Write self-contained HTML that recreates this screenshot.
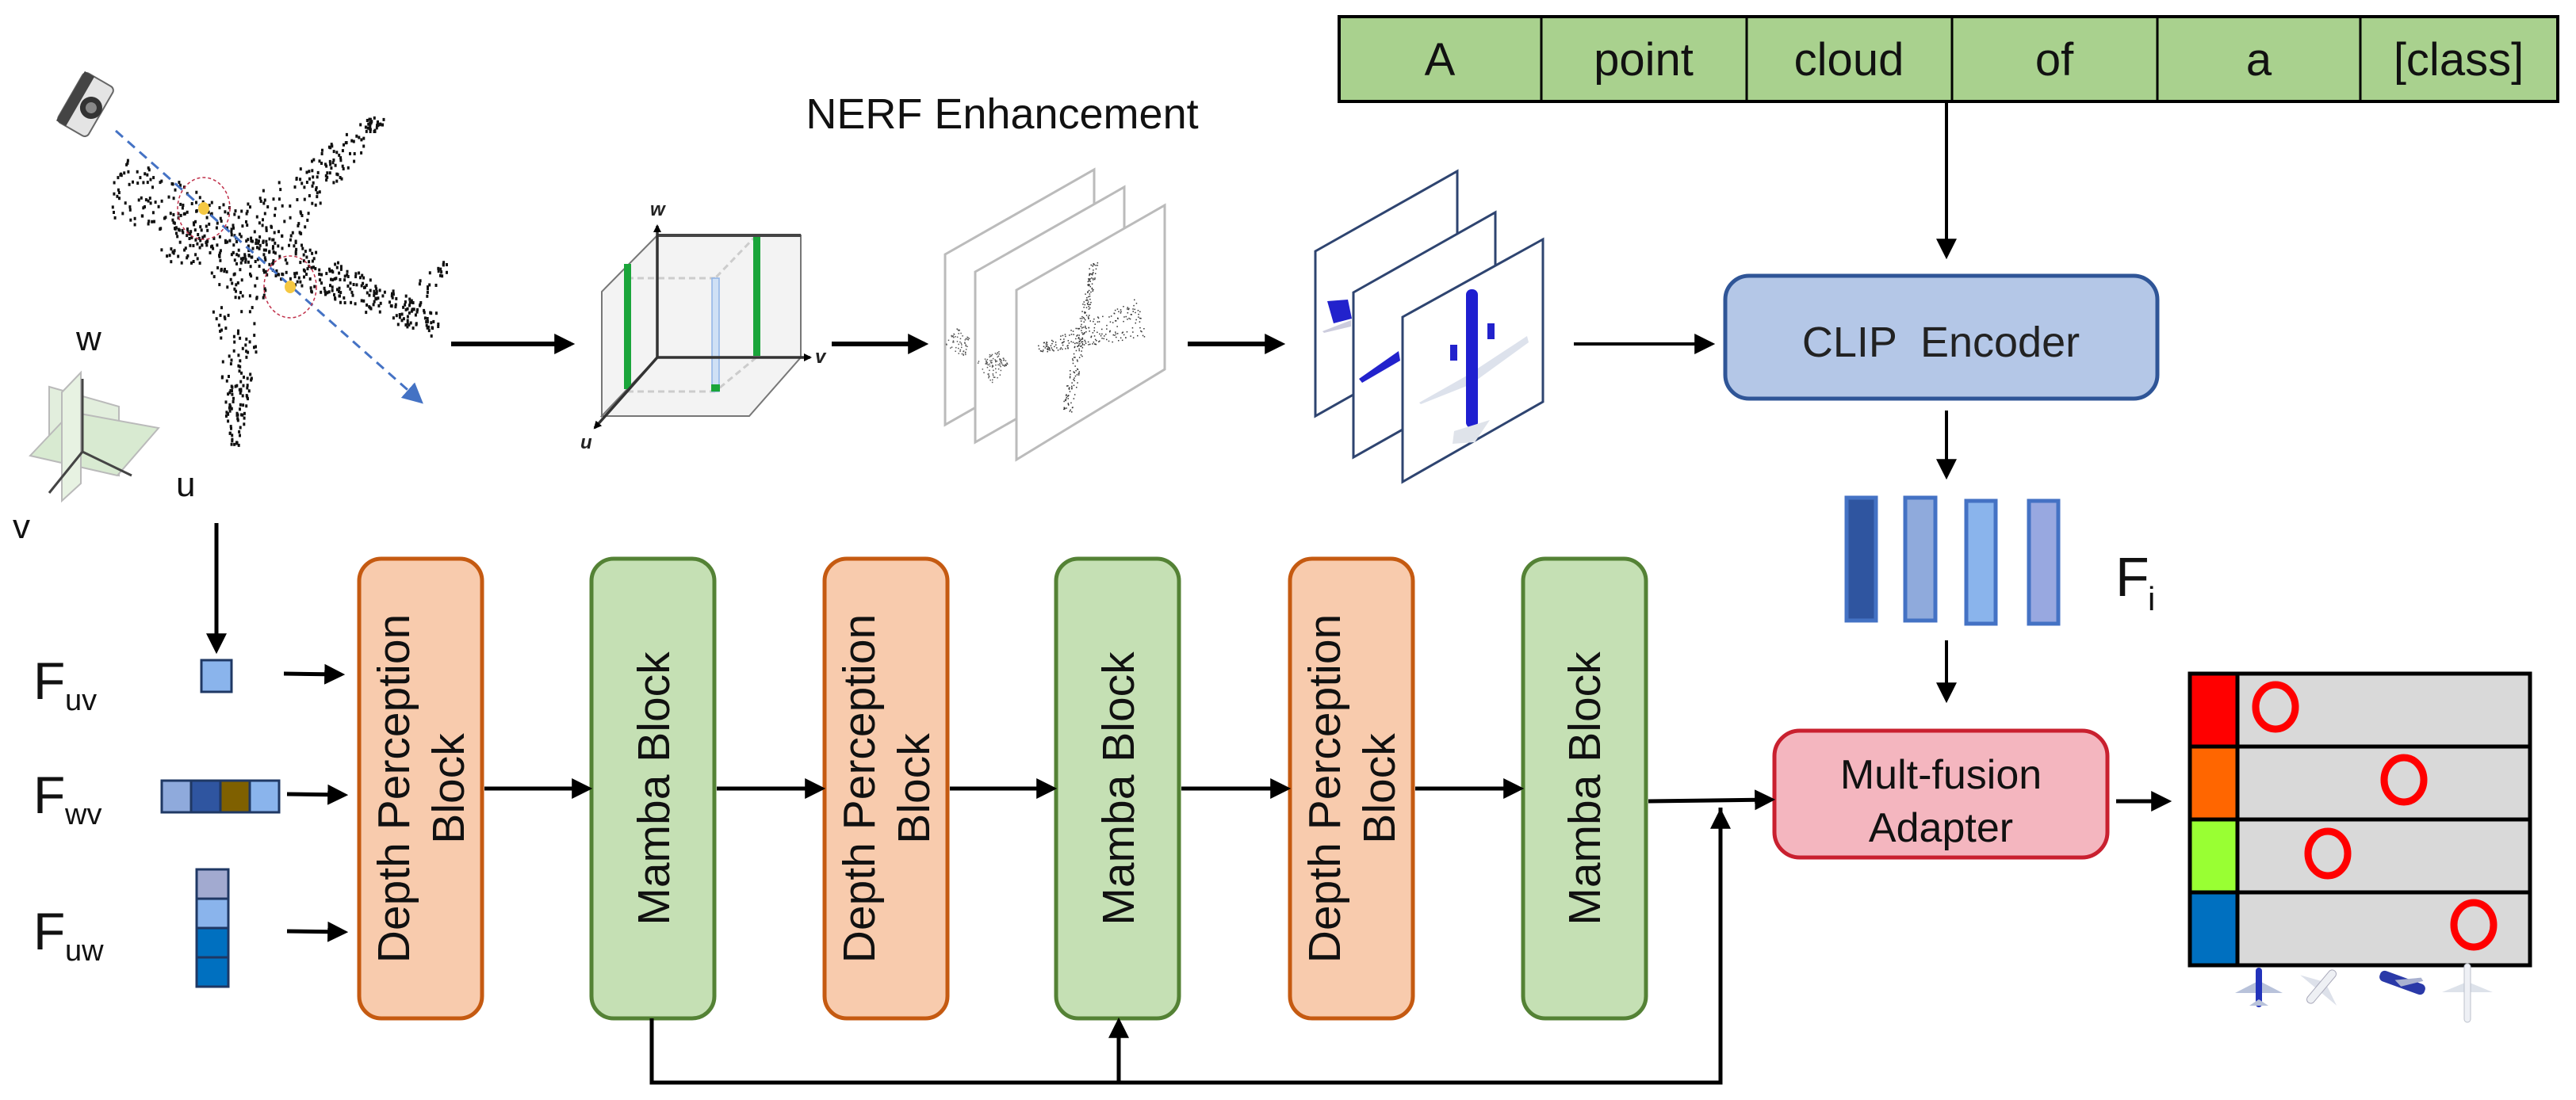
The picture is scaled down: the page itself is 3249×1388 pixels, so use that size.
<!DOCTYPE html>
<html><head><meta charset="utf-8"><style>
html,body{margin:0;padding:0;background:#fff}
svg{display:block}
text{font-family:"Liberation Sans",Arial,sans-serif}
</style></head><body>
<svg id="s" width="3249" height="1388" viewBox="0 0 3249 1388" xmlns="http://www.w3.org/2000/svg">
<defs>
<marker id="ah" markerWidth="10" markerHeight="10" refX="8" refY="5" orient="auto" markerUnits="userSpaceOnUse" viewBox="0 0 10 10"><path d="M0,0 L10,5 L0,10 z" fill="#000"/></marker>
<marker id="ab" viewBox="0 0 10 10" refX="8" refY="5" markerWidth="26" markerHeight="26" orient="auto" markerUnits="userSpaceOnUse"><path d="M0,0 L10,5 L0,10 z" fill="#000"/></marker>
<marker id="abl" viewBox="0 0 10 10" refX="8" refY="5" markerWidth="26" markerHeight="26" orient="auto" markerUnits="userSpaceOnUse"><path d="M0,0 L10,5 L0,10 z" fill="#4472c4"/></marker>
</defs>

<rect x="1689" y="21" width="1537" height="107" fill="#a9d18e" stroke="#000" stroke-width="4"/>
<g stroke="#000" stroke-width="3">
<line x1="1944" y1="21" x2="1944" y2="128"/><line x1="2203" y1="21" x2="2203" y2="128"/>
<line x1="2462" y1="21" x2="2462" y2="128"/><line x1="2721" y1="21" x2="2721" y2="128"/>
<line x1="2977" y1="21" x2="2977" y2="128"/></g>
<g font-size="58" text-anchor="middle" fill="#111">
<text x="1816" y="95">A</text><text x="2073" y="95">point</text><text x="2332" y="95">cloud</text>
<text x="2591" y="95">of</text><text x="2849" y="95">a</text><text x="3101" y="95">[class]</text></g>

<line x1="2455" y1="128" x2="2455" y2="322" stroke="#000" stroke-width="4" marker-end="url(#ab)"/>
<rect x="2176" y="348" width="545" height="155" rx="30" fill="#b4c7e7" stroke="#2f5597" stroke-width="5"/>
<text x="2448" y="450" font-size="54" text-anchor="middle" fill="#222" xml:space="preserve">CLIP  Encoder</text>
<line x1="2455" y1="518" x2="2455" y2="600" stroke="#000" stroke-width="4" marker-end="url(#ab)"/>
<g stroke="#4472c4" stroke-width="5">
<rect x="2329" y="628" width="37" height="155" fill="#2f55a0"/>
<rect x="2403" y="628" width="38" height="155" fill="#8faadc"/>
<rect x="2480" y="632" width="37" height="155" fill="#8ab4ec"/>
<rect x="2559" y="632" width="37" height="155" fill="#98a8e0"/></g>
<text x="2668" y="752" font-size="70" fill="#111">F</text><text x="2709" y="770" font-size="42" fill="#111">i</text>
<line x1="2455" y1="808" x2="2455" y2="882" stroke="#000" stroke-width="4" marker-end="url(#ab)"/>
<rect x="2238" y="922" width="420" height="160" rx="32" fill="#f4b6bf" stroke="#c9202f" stroke-width="5"/>
<text x="2448" y="995" font-size="52" text-anchor="middle" fill="#111">Mult-fusion</text>
<text x="2448" y="1062" font-size="52" text-anchor="middle" fill="#111">Adapter</text>
<line x1="2669" y1="1011" x2="2734" y2="1011" stroke="#000" stroke-width="5" marker-end="url(#ab)"/>
<rect x="2762" y="850" width="429" height="368" fill="#d9d9d9"/>
<rect x="2762" y="850" width="60" height="92" fill="#ff0000"/>
<rect x="2762" y="942" width="60" height="92" fill="#ff6600"/>
<rect x="2762" y="1034" width="60" height="92" fill="#99ff33"/>
<rect x="2762" y="1126" width="60" height="92" fill="#0070c0"/>
<g stroke="#000" stroke-width="5" fill="none">
<rect x="2762" y="850" width="429" height="368"/>
<line x1="2822" y1="850" x2="2822" y2="1218"/>
<line x1="2762" y1="942" x2="3191" y2="942"/><line x1="2762" y1="1034" x2="3191" y2="1034"/><line x1="2762" y1="1126" x2="3191" y2="1126"/></g>
<g stroke="#ff0000" stroke-width="9" fill="none">
<ellipse cx="2870" cy="892" rx="25" ry="28"/><ellipse cx="3032" cy="984" rx="25" ry="28"/>
<ellipse cx="2936" cy="1077" rx="25" ry="28"/><ellipse cx="3120" cy="1167" rx="25" ry="28"/></g>
<g>
<g transform="translate(2849,1245)"><path d="M-30,8 L30,8 L3,-6 L-3,-6z" fill="#b8c2da"/><rect x="-4" y="-24" width="8" height="50" rx="4" fill="#2233bb"/><path d="M-12,24 L12,24 L0,16z" fill="#b8c2da"/></g>
<g transform="translate(2928,1245) rotate(40)"><path d="M-30,6 L30,6 L3,-6 L-3,-6z" fill="#dde1ea"/><rect x="-5" y="-26" width="10" height="52" rx="5" fill="#eef0f4" stroke="#aab" /></g>
<g transform="translate(3030,1240) rotate(20)"><rect x="-30" y="-7" width="60" height="14" rx="6" fill="#2a39a8"/><path d="M-10,0 L20,-14 L24,-11 L0,5z" fill="#a9b1d0"/></g>
<g transform="translate(3112,1250)"><path d="M-32,2 L32,2 L3,-10 L-3,-10z" fill="#dde2ea"/><rect x="-4" y="-34" width="8" height="74" rx="4" fill="#eef0f5" stroke="#bcc1cc"/></g>
</g>

<text x="1264" y="162" font-size="54" text-anchor="middle" fill="#111">NERF Enhancement</text>

<g stroke="#000" stroke-width="6">
<line x1="569" y1="434" x2="720" y2="434" marker-end="url(#ab)"/>
<line x1="1049" y1="434" x2="1166" y2="434" marker-end="url(#ab)"/>
<line x1="1498" y1="434" x2="1616" y2="434" marker-end="url(#ab)"/>
<line x1="1985" y1="434" x2="2158" y2="434" stroke-width="4" marker-end="url(#ab)"/>
</g>

<rect x="829" y="297" width="181" height="154" fill="#f3f3f3" stroke="#777" stroke-width="2"/>
<path d="M829,297 L759,368 L759,525 L829,451z" fill="#f3f3f3" stroke="#777" stroke-width="2"/>
<path d="M829,451 L1010,451 L945,525 L759,525z" fill="#f3f3f3" stroke="#777" stroke-width="2"/>
<g stroke="#ccc" stroke-width="3" stroke-dasharray="8,5" fill="none">
<line x1="791" y1="351" x2="902" y2="351"/><line x1="791" y1="494" x2="902" y2="494"/><line x1="954" y1="297" x2="902" y2="351"/><line x1="954" y1="451" x2="902" y2="494"/></g>
<rect x="898" y="351" width="9" height="143" fill="#cfe0f5" stroke="#8fb3e6" stroke-width="1.5"/>
<rect x="897" y="485" width="11" height="9" fill="#1aa53a"/>
<rect x="950" y="297" width="9" height="152" fill="#1aa53a"/>
<rect x="787" y="333" width="9" height="158" fill="#1aa53a"/>
<line x1="829" y1="297" x2="1010" y2="297" stroke="#444" stroke-width="4"/>
<g stroke="#333" stroke-width="3.5">
<line x1="829" y1="451" x2="829" y2="285" marker-end="url(#ah)"/>
<line x1="829" y1="451" x2="1022" y2="451" marker-end="url(#ah)"/>
<line x1="829" y1="451" x2="750" y2="540" marker-end="url(#ah)"/></g>
<g font-family="Liberation Serif" font-style="italic" font-weight="bold" font-size="24" fill="#222">
<text x="820" y="272">w</text><text x="1028" y="458">v</text><text x="732" y="566">u</text></g>

<g fill="#fff" stroke="#bbb" stroke-width="3">
<path d="M1192,321 L1380,214 L1380,429 L1192,536z"/>
<path d="M1230,343 L1418,236 L1418,451 L1230,558z"/>
<path d="M1282,366 L1469,259 L1469,466 L1282,580z"/></g>
<g id="fdots"></g>

<g fill="#fff" stroke="#2e4470" stroke-width="3">
<path d="M1659,317 L1838,216 L1838,424 L1659,525z"/>
<path d="M1707,369 L1886,268 L1886,476 L1707,577z"/>
<path d="M1769,400 L1946,302 L1946,507 L1769,608z"/></g>
<path d="M1674,380 L1700,378 L1705,402 L1682,408z" fill="#2222cc"/>
<path d="M1668,418 L1704,404 L1704,412 L1670,420z" fill="#ccd"/>
<path d="M1714,478 L1764,443 L1766,455 L1718,483z" fill="#2222cc"/>
<path d="M1790,508 L1850,474 L1926,424 L1928,432 L1855,485 L1792,510z" fill="#dde2ec"/>
<rect x="1849" y="365" width="15" height="175" rx="7" fill="#1f1fd0"/>
<rect x="1829" y="435" width="9" height="20" fill="#2222cc"/><rect x="1876" y="408" width="9" height="20" fill="#2222cc"/>
<path d="M1834,544 L1879,530 L1860,558 L1832,560z" fill="#dfe3ea"/>

<g id="pc" fill="#111"></g>
<g transform="translate(108,132) rotate(-60)">
<rect x="-36" y="-22" width="72" height="44" rx="6" fill="#e4e4e4" stroke="#666" stroke-width="2"/>
<rect x="-36" y="-22" width="72" height="14" fill="#444"/>
<circle cx="0" cy="8" r="14" fill="#333"/><circle cx="0" cy="8" r="7" fill="#888"/>
</g>
<line x1="146" y1="165" x2="530" y2="506" stroke="#4472c4" stroke-width="3" stroke-dasharray="12,8" marker-end="url(#abl)"/>
<g fill="none" stroke="#c0304a" stroke-width="1.5" stroke-dasharray="4,3">
<ellipse cx="257" cy="263" rx="33" ry="39"/><ellipse cx="366" cy="362" rx="33" ry="39"/></g>
<ellipse cx="257" cy="263" rx="7" ry="8" fill="#f5c842"/><ellipse cx="366" cy="362" rx="7" ry="8" fill="#f5c842"/>

<g opacity="0.8">
<path d="M62,488 L150,513 L150,600 L62,575z" fill="#dcebd5" stroke="#aaa" stroke-width="2"/>
<path d="M38,575 L90,520 L200,540 L148,600z" fill="#cfe6c6" stroke="#aaa" stroke-width="2"/>
<path d="M78,495 L102,470 L102,610 L78,632z" fill="#e2efdc" stroke="#aaa" stroke-width="2"/></g>
<g stroke="#444" stroke-width="3">
<line x1="104" y1="570" x2="104" y2="478"/><line x1="104" y1="570" x2="166" y2="600"/><line x1="104" y1="570" x2="62" y2="622"/></g>
<g font-size="44" fill="#111"><text x="96" y="442">w</text><text x="222" y="626">u</text><text x="16" y="679">v</text></g>

<line x1="273" y1="660" x2="273" y2="820" stroke="#000" stroke-width="5" marker-end="url(#ab)"/>

<g fill="#111"><text x="42" y="882" font-size="66">F</text><text x="82" y="896" font-size="38">uv</text>
<text x="42" y="1026" font-size="66">F</text><text x="82" y="1040" font-size="38">wv</text>
<text x="42" y="1198" font-size="66">F</text><text x="82" y="1212" font-size="38">uw</text></g>
<rect x="254" y="833" width="38" height="40" fill="#8ab4ec" stroke="#1f3864" stroke-width="3"/>
<g stroke="#1f3864" stroke-width="3">
<rect x="204" y="985" width="37" height="40" fill="#8faadc"/><rect x="241" y="985" width="37" height="40" fill="#2f55a0"/>
<rect x="278" y="985" width="37" height="40" fill="#7f6000"/><rect x="315" y="985" width="37" height="40" fill="#8ab4ec"/>
<rect x="248" y="1097" width="40" height="37" fill="#a2aad0"/><rect x="248" y="1134" width="40" height="37" fill="#8ab4ec"/>
<rect x="248" y="1171" width="40" height="37" fill="#0070c0"/><rect x="248" y="1208" width="40" height="37" fill="#0070c0"/></g>
<g stroke="#000" stroke-width="5">
<line x1="358" y1="850" x2="430" y2="851" marker-end="url(#ab)"/>
<line x1="362" y1="1002" x2="434" y2="1003" marker-end="url(#ab)"/>
<line x1="362" y1="1175" x2="434" y2="1176" marker-end="url(#ab)"/></g>

<g stroke-width="5">
<rect x="453" y="705" width="155" height="580" rx="28" fill="#f8cbad" stroke="#c55a11"/>
<rect x="746" y="705" width="155" height="580" rx="28" fill="#c5e0b4" stroke="#548235"/>
<rect x="1040" y="705" width="155" height="580" rx="28" fill="#f8cbad" stroke="#c55a11"/>
<rect x="1332" y="705" width="155" height="580" rx="28" fill="#c5e0b4" stroke="#548235"/>
<rect x="1627" y="705" width="155" height="580" rx="28" fill="#f8cbad" stroke="#c55a11"/>
<rect x="1921" y="705" width="155" height="580" rx="28" fill="#c5e0b4" stroke="#548235"/></g>
<g font-size="57" text-anchor="middle" fill="#111">
<g transform="translate(530,995) rotate(-90)"><text x="0" y="-14">Depth Perception</text><text x="0" y="55">Block</text></g>
<g transform="translate(1117,995) rotate(-90)"><text x="0" y="-14">Depth Perception</text><text x="0" y="55">Block</text></g>
<g transform="translate(1704,995) rotate(-90)"><text x="0" y="-14">Depth Perception</text><text x="0" y="55">Block</text></g>
<g transform="translate(824,995) rotate(-90)"><text x="0" y="20">Mamba Block</text></g>
<g transform="translate(1410,995) rotate(-90)"><text x="0" y="20">Mamba Block</text></g>
<g transform="translate(1998,995) rotate(-90)"><text x="0" y="20">Mamba Block</text></g></g>
<g stroke="#000" stroke-width="5" fill="none">
<line x1="611" y1="995" x2="742" y2="995" marker-end="url(#ab)"/>
<line x1="904" y1="995" x2="1036" y2="995" marker-end="url(#ab)"/>
<line x1="1198" y1="995" x2="1328" y2="995" marker-end="url(#ab)"/>
<line x1="1490" y1="995" x2="1623" y2="995" marker-end="url(#ab)"/>
<line x1="1785" y1="995" x2="1917" y2="995" marker-end="url(#ab)"/>
<line x1="2079" y1="1011" x2="2234" y2="1009" marker-end="url(#ab)"/>
<polyline points="822,1285 822,1366 2170,1366 2170,1019"/>
<line x1="2170" y1="1060" x2="2170" y2="1025" marker-end="url(#ab)"/>
<line x1="1411" y1="1366" x2="1411" y2="1289" marker-end="url(#ab)"/></g>
</svg>
<script>
(function(){
var s=12345;function r(){s=(s*1103515245+12345)%2147483648;return s/2147483648;}
var ns="http://www.w3.org/2000/svg";
function band(g,x1,y1,x2,y2,w1,w2,n,sw,sh,col){for(var i=0;i<n;i++){var t=r();var w=w1+(w2-w1)*t;var px=x1+(x2-x1)*t,py=y1+(y2-y1)*t;var dx=x2-x1,dy=y2-y1,L=Math.sqrt(dx*dx+dy*dy);var o=(r()-0.5)*w;var e=document.createElementNS(ns,"rect");e.setAttribute("x",(px-dy/L*o).toFixed(1));e.setAttribute("y",(py+dx/L*o).toFixed(1));e.setAttribute("width",sw);e.setAttribute("height",sh);if(col)e.setAttribute("fill",col);g.appendChild(e);}}
var g=document.getElementById("pc");
band(g,141,230,553,411,80,30,420,3,4);
band(g,320,300,480,145,90,16,170,3,4);
band(g,300,330,295,560,80,14,150,3,4);
band(g,200,300,320,330,50,40,70,3,4);
band(g,564,330,499,395,12,30,30,3,4);
var f=document.getElementById("fdots");
band(f,1380,330,1345,520,10,14,200,1.5,1.5,"#333");
band(f,1310,440,1440,400,10,50,200,1.5,1.5,"#333");
band(f,1240,470,1265,450,40,20,90,1.5,1.5,"#555");
band(f,1200,440,1215,420,40,20,60,1.5,1.5,"#555");
})();
</script>
</body></html>
